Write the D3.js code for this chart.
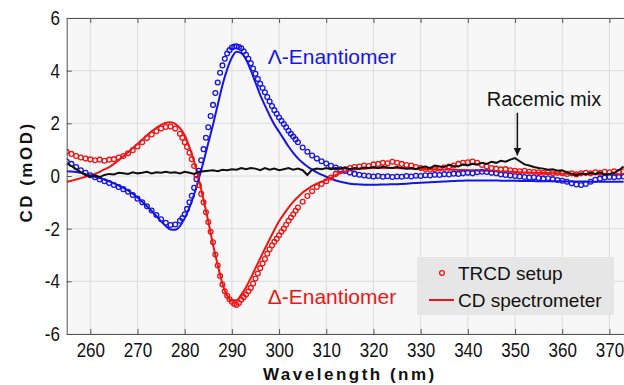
<!DOCTYPE html>
<html>
<head>
<meta charset="utf-8">
<script src="https://cdn.jsdelivr.net/npm/d3@7"></script>
<style>
  body { margin: 0; background: #fff; }
  text { font-family: "Liberation Sans", Arial, sans-serif; }
</style>
</head>
<body>
<svg id="chart"></svg>
<script>
// wavelength grid (nm), 1 nm steps starting at 255
const startNm = 255;

// TRCD setup (circles)
const lambdaTrcd = [0.55,0.46,0.34,0.22,0.12,0.03,-0.05,-0.13,-0.2,-0.27,-0.34,-0.42,-0.5,-0.6,-0.72,-0.86,-1.0,-1.15,-1.31,-1.48,-1.64,-1.78,-1.86,-1.84,-1.7,-1.45,-1.0,-0.45,0.2,1.02,1.85,2.7,3.55,4.2,4.65,4.88,4.93,4.85,4.6,4.28,3.88,3.5,3.18,2.83,2.5,2.22,1.97,1.72,1.5,1.28,1.08,0.92,0.78,0.66,0.56,0.47,0.39,0.32,0.25,0.19,0.13,0.08,0.05,0.02,0.0,
  -0.02,0.0,-0.03,-0.01,-0.04,-0.02,-0.03,0.0,-0.02,0.01,0.0,0.03,0.02,0.05,0.04,0.07,0.06,0.09,0.08,0.1,0.12,0.1,0.14,0.16,0.15,0.12,0.1,0.06,0.04,0.02,0.0,-0.02,-0.04,-0.06,-0.05,-0.08,-0.1,-0.09,-0.12,-0.15,-0.18,-0.22,-0.28,-0.32,-0.34,-0.3,-0.22,-0.14,-0.1,-0.06,-0.04,-0.05,-0.03,-0.02];
const deltaTrcd = [0.92,0.84,0.76,0.7,0.66,0.63,0.6,0.62,0.58,0.62,0.64,0.7,0.76,0.86,0.98,1.12,1.28,1.44,1.58,1.7,1.8,1.86,1.88,1.8,1.6,1.28,0.88,0.38,-0.35,-1.0,-1.75,-2.52,-3.4,-4.12,-4.55,-4.78,-4.9,-4.7,-4.5,-4.25,-3.89,-3.5,-3.15,-2.78,-2.5,-2.25,-2.0,-1.7,-1.45,-1.2,-0.98,-0.76,-0.58,-0.42,-0.3,-0.2,-0.06,0.08,0.18,0.25,0.3,0.34,0.36,0.4,0.38,
  0.44,0.46,0.5,0.48,0.54,0.5,0.46,0.42,0.4,0.34,0.3,0.27,0.24,0.26,0.28,0.32,0.36,0.4,0.46,0.5,0.52,0.55,0.5,0.42,0.36,0.3,0.28,0.25,0.26,0.22,0.2,0.18,0.2,0.16,0.15,0.14,0.12,0.14,0.1,0.12,0.1,0.08,0.1,0.06,0.1,0.12,0.1,0.14,0.12,0.16,0.14,0.18,0.15,0.17];

// extra TRCD points in the steep band, at the half-nm positions 279.5 ... 303.5
const halfStartNm = 279.5;
const lambdaTrcdHalf = [-1.6,-1.25,-0.75,-0.12,0.6,1.45,2.28,3.15,3.92,4.45,4.78,4.92,4.9,4.74,4.45,4.08,3.68,3.34,3.0,2.66,2.36,2.1,1.85,1.6,1.39];
const deltaTrcdHalf = [1.45,1.1,0.64,0.02,-0.68,-1.38,-2.12,-2.98,-3.8,-4.38,-4.68,-4.86,-4.82,-4.6,-4.38,-4.08,-3.7,-3.32,-2.95,-2.64,-2.38,-2.12,-1.85,-1.58,-1.32];

// CD spectrometer (lines)
const lambdaCd = [0.18,0.17,0.15,0.12,0.07,0.02,-0.03,-0.08,-0.14,-0.2,-0.28,-0.36,-0.45,-0.55,-0.67,-0.82,-0.98,-1.15,-1.33,-1.52,-1.72,-1.9,-2.03,-2.04,-1.9,-1.6,-1.2,-0.7,-0.1,0.55,1.25,1.95,2.7,3.45,4.05,4.5,4.72,4.66,4.42,4.02,3.55,3.08,2.68,2.3,1.96,1.68,1.4,1.12,0.88,0.67,0.5,0.36,0.24,0.14,0.05,-0.03,-0.1,-0.17,-0.22,-0.26,-0.29,-0.31,-0.32,-0.33,-0.33,
  -0.33,-0.33,-0.32,-0.32,-0.31,-0.31,-0.3,-0.29,-0.28,-0.27,-0.26,-0.25,-0.24,-0.23,-0.22,-0.21,-0.2,-0.19,-0.18,-0.18,-0.17,-0.17,-0.17,-0.17,-0.17,-0.17,-0.17,-0.18,-0.18,-0.18,-0.18,-0.19,-0.19,-0.19,-0.19,-0.2,-0.2,-0.2,-0.2,-0.2,-0.2,-0.21,-0.21,-0.21,-0.21,-0.21,-0.22,-0.22,-0.22,-0.22,-0.22,-0.22,-0.22,-0.22];
const deltaCd = [-0.22,-0.18,-0.13,-0.08,-0.03,0.02,0.08,0.16,0.25,0.34,0.46,0.6,0.75,0.9,1.06,1.22,1.38,1.55,1.7,1.83,1.94,2.02,2.04,1.98,1.82,1.55,1.1,0.55,-0.12,-0.9,-1.72,-2.6,-3.38,-4.08,-4.55,-4.73,-4.72,-4.5,-4.22,-3.88,-3.5,-3.13,-2.76,-2.4,-2.05,-1.72,-1.45,-1.2,-0.98,-0.8,-0.63,-0.5,-0.38,-0.29,-0.22,-0.15,-0.06,0.03,0.11,0.17,0.22,0.25,0.27,0.28,0.29,
  0.3,0.3,0.3,0.3,0.3,0.3,0.29,0.29,0.28,0.28,0.27,0.27,0.26,0.26,0.25,0.25,0.24,0.24,0.23,0.23,0.22,0.22,0.21,0.2,0.2,0.19,0.18,0.17,0.17,0.16,0.15,0.14,0.13,0.13,0.12,0.12,0.11,0.11,0.1,0.1,0.09,0.09,0.09,0.08,0.08,0.08,0.08,0.07,0.07,0.07,0.07,0.06,0.06,0.06];

// racemic mix (TRCD)
const racemic = [0.48,0.38,0.26,0.14,0.04,-0.02,0.02,-0.04,0.04,0.08,0.06,0.12,0.1,0.08,0.14,0.1,0.12,0.16,0.1,0.14,0.12,0.16,0.12,0.14,0.1,0.16,0.12,0.08,0.16,0.18,0.2,0.22,0.18,0.24,0.22,0.26,0.24,0.3,0.26,0.3,0.28,0.22,0.3,0.24,0.28,0.22,0.26,0.3,0.24,0.28,0.22,0.04,0.24,0.28,0.26,0.3,0.26,0.3,0.28,0.32,0.26,0.3,0.28,0.32,0.3,
  0.34,0.3,0.36,0.32,0.3,0.34,0.3,0.28,0.3,0.26,0.32,0.36,0.3,0.4,0.36,0.34,0.42,0.38,0.36,0.44,0.4,0.46,0.44,0.5,0.46,0.54,0.5,0.58,0.54,0.62,0.68,0.56,0.44,0.4,0.34,0.3,0.28,0.24,0.26,0.2,0.22,0.14,0.08,0.02,0.1,0.06,0.12,0.08,0.14,0.06,0.08,0.12,0.22,0.36];

const xTicks = [260, 270, 280, 290, 300, 310, 320, 330, 340, 350, 360, 370];
const yTicks = [-6, -4, -2, 0, 2, 4, 6];

const width = 624;
const height = 385;
const blue = "#1515e6";
const red = "#ee1515";

const svg = d3.select("#chart")
    .attr("width", width)
    .attr("height", height);

const x = d3.scaleLinear().domain([255, 375]).range([66.7, 633]);
const y = d3.scaleLinear().domain([-6, 6]).range([334, 18]);

const toPoints = (vals, start) => vals.map((v, i) => ({ nm: start + i, v: v }));

// plot background
svg.append("rect")
    .attr("x", x(255)).attr("y", y(6))
    .attr("width", x(375) - x(255)).attr("height", y(-6) - y(6))
    .attr("fill", "#f7f7f7");

// grid
svg.append("g").selectAll("line").data(xTicks).enter().append("line")
    .attr("x1", d => x(d)).attr("x2", d => x(d))
    .attr("y1", y(-6)).attr("y2", y(6))
    .attr("stroke", "#dcdcdc").attr("stroke-width", 1);
svg.append("g").selectAll("line").data(yTicks).enter().append("line")
    .attr("x1", x(255)).attr("x2", x(375))
    .attr("y1", d => y(d)).attr("y2", d => y(d))
    .attr("stroke", "#dcdcdc").attr("stroke-width", 1);

svg.append("clipPath").attr("id", "clip")
    .append("rect")
    .attr("x", x(255)).attr("y", y(6))
    .attr("width", x(375) - x(255)).attr("height", y(-6) - y(6));

const plot = svg.append("g").attr("clip-path", "url(#clip)");

const smooth = d3.line().x(d => x(d.nm)).y(d => y(d.v)).curve(d3.curveMonotoneX);
const jagged = d3.line().x(d => x(d.nm)).y(d => y(d.v));

plot.append("path").datum(toPoints(lambdaCd, startNm))
    .attr("d", smooth).attr("fill", "none").attr("stroke", blue).attr("stroke-width", 2);
plot.append("path").datum(toPoints(deltaCd, startNm))
    .attr("d", smooth).attr("fill", "none").attr("stroke", red).attr("stroke-width", 2);

function drawCircles(points, color) {
    plot.append("g").selectAll("circle").data(points).enter().append("circle")
        .attr("cx", d => x(d.nm)).attr("cy", d => y(d.v)).attr("r", 2.4)
        .attr("fill", "none").attr("stroke", color).attr("stroke-width", 1.3);
}
drawCircles(toPoints(lambdaTrcd, startNm).concat(toPoints(lambdaTrcdHalf, halfStartNm)), blue);
drawCircles(toPoints(deltaTrcd, startNm).concat(toPoints(deltaTrcdHalf, halfStartNm)), red);

plot.append("path").datum(toPoints(racemic, startNm))
    .attr("d", jagged).attr("fill", "none").attr("stroke", "#111").attr("stroke-width", 2);

// axes
const axisColor = "#555";
const xAxis = svg.append("g").attr("transform", `translate(0,${y(-6)})`)
    .call(d3.axisBottom(x).tickValues(xTicks).tickSizeInner(-5).tickSizeOuter(0).tickPadding(9));
const xTop = svg.append("g").attr("transform", `translate(0,${y(6)})`)
    .call(d3.axisTop(x).tickValues(xTicks).tickSizeInner(-5).tickSizeOuter(0).tickFormat(""));
const yAxis = svg.append("g").attr("transform", `translate(${x(255)},0)`)
    .call(d3.axisLeft(y).tickValues(yTicks).tickSizeInner(-5).tickSizeOuter(0).tickPadding(8)
        .tickFormat(d => d.toString()));

[xAxis, xTop, yAxis].forEach(g => {
    g.select(".domain").attr("stroke", axisColor).attr("stroke-width", 1);
    g.selectAll(".tick line").attr("stroke", axisColor);
    g.selectAll(".tick text")
        .attr("fill", "#111")
        .attr("transform", "scale(0.85,1)")
        .style("font-size", "20px");
});

svg.append("text")
    .attr("x", (x(255) + x(375)) / 2).attr("y", 380)
    .attr("text-anchor", "middle")
    .style("font-size", "17px").style("font-weight", "bold").style("letter-spacing", "2.5px")
    .attr("fill", "#111")
    .text("Wavelength (nm)");

svg.append("text")
    .attr("transform", `translate(32,${(y(6) + y(-6)) / 2 - 4}) rotate(-90)`)
    .attr("text-anchor", "middle")
    .style("font-size", "17px").style("font-weight", "bold").style("letter-spacing", "2.5px")
    .attr("fill", "#111")
    .text("CD (mOD)");

// annotations
svg.append("text").attr("x", x(297.6)).attr("y", y(4.27))
    .style("font-size", "21px").attr("fill", blue).text("Λ-Enantiomer");
svg.append("text").attr("x", x(297.6)).attr("y", y(-4.85))
    .style("font-size", "21px").attr("fill", red).text("Δ-Enantiomer");
svg.append("text").attr("x", x(344)).attr("y", y(2.65))
    .style("font-size", "20px").attr("fill", "#111").text("Racemic mix");

svg.append("defs").append("marker")
    .attr("id", "arrow").attr("viewBox", "0 0 10 10")
    .attr("refX", 10).attr("refY", 5)
    .attr("markerWidth", 5).attr("markerHeight", 5)
    .attr("orient", "auto")
    .append("path").attr("d", "M0,0L10,5L0,10z").attr("fill", "#111");
svg.append("line")
    .attr("x1", x(350.5)).attr("x2", x(350.5))
    .attr("y1", y(2.4)).attr("y2", y(0.78))
    .attr("stroke", "#111").attr("stroke-width", 1.5)
    .attr("marker-end", "url(#arrow)");

// legend
const lg = svg.append("g");
lg.append("rect").attr("x", 417).attr("y", 257).attr("width", 197).attr("height", 58)
    .attr("fill", "#e6e6e6");
lg.append("circle").attr("cx", 442).attr("cy", 273).attr("r", 2.4)
    .attr("fill", "none").attr("stroke", red).attr("stroke-width", 1.3);
lg.append("line").attr("x1", 429).attr("x2", 454).attr("y1", 300).attr("y2", 300)
    .attr("stroke", red).attr("stroke-width", 2);
lg.append("text").attr("x", 458).attr("y", 279.5)
    .style("font-size", "19px").attr("fill", "#111").text("TRCD setup");
lg.append("text").attr("x", 458).attr("y", 306.5)
    .style("font-size", "19px").attr("fill", "#111").text("CD spectrometer");
</script>
</body>
</html>
